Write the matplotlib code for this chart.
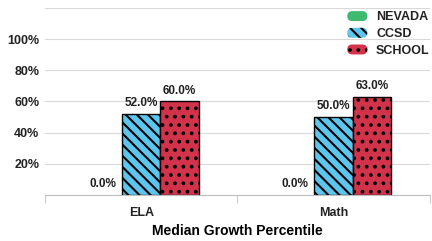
import matplotlib.pyplot as plt
from matplotlib.patches import FancyBboxPatch
from matplotlib.legend_handler import HandlerPatch
import numpy as np

plt.rcParams['font.family'] = ['Liberation Sans', 'DejaVu Sans']
plt.rcParams['hatch.linewidth'] = 1.5

# Data
categories = ['ELA', 'Math']
series_names = ['NEVADA', 'CCSD', 'SCHOOL']
nevada = [0.0, 0.0]
ccsd = [52.0, 50.0]
school = [60.0, 63.0]
y_ticks = [0, 20, 40, 60, 80, 100, 120]
y_labels = ['', '20%', '40%', '60%', '80%', '100%', '']

colors = ['#3dba6f', '#5cc6ef', '#d2334b']
hatches = [None, '\\\\\\', '..']


class PillHandler(HandlerPatch):
    # rounded legend keys like the original
    def create_artists(self, legend, orig_handle, xdescent, ydescent, width, height, fontsize, trans):
        r = height * 0.5
        p = FancyBboxPatch((-xdescent + r, -ydescent), width - 2 * r, height,
                           boxstyle='round,pad=0,rounding_size=%f' % r)
        p.set_facecolor(orig_handle.get_facecolor())
        p.set_edgecolor('black')
        p.set_linewidth(0)
        if orig_handle.get_hatch():
            p.set_hatch(orig_handle.get_hatch())
        p.set_transform(trans)
        return [p]


fig = plt.figure(figsize=(4.32, 2.41), dpi=100)
ax = fig.add_axes([0.104, 0.191, 0.891, 0.776])

x = np.arange(len(categories))
w = 0.2
handles = []
for i, (vals, c, h, name) in enumerate(zip([nevada, ccsd, school], colors, hatches, series_names)):
    bars = ax.bar(x + (i - 1) * w, vals, width=w, color=c, hatch=h,
                  edgecolor='black', linewidth=0 if i == 0 else 1.0, label=name)
    for b, v in zip(bars, vals):
        ax.text(b.get_x() + b.get_width() / 2, v + 3, '%.1f%%' % v,
                ha='center', va='bottom', fontsize=8.5, fontweight='bold', color='#222222')
    handles.append(bars[0])

ax.set_xlim(-0.5, 1.5)
ax.set_ylim(0, 120)
ax.set_yticks(y_ticks)
ax.set_yticklabels(y_labels)
ax.set_xticks(x)
ax.set_xticklabels(categories)
ax.set_xticks([-0.5, 0.5, 1.5], minor=True)
ax.tick_params(axis='x', which='major', length=0, pad=9, labelsize=9)
ax.tick_params(axis='x', which='minor', length=6, color='#bfbfbf')
ax.tick_params(axis='y', length=0, pad=4, labelsize=9)
for lab in ax.get_xticklabels() + ax.get_yticklabels():
    lab.set_fontweight('bold')
    lab.set_color('#222222')

ax.grid(axis='y', color='#d9d9d9', linewidth=0.8)
ax.set_axisbelow(True)
for s in ['top', 'right', 'left']:
    ax.spines[s].set_visible(False)
ax.spines['bottom'].set_color('#bfbfbf')

ax.set_xlabel('Median Growth Percentile', fontsize=10, fontweight='bold', labelpad=3)

leg = fig.legend(handles, series_names, loc='upper right', bbox_to_anchor=(1.012, 0.985),
                 frameon=False, fontsize=9, handlelength=2.4, handleheight=0.85,
                 handletextpad=0.3, labelspacing=0.35, borderpad=0.1,
                 handler_map={h: PillHandler() for h in handles})
for t in leg.get_texts():
    t.set_fontweight('bold')
    t.set_color('#222222')

fig.savefig('out.png', dpi=100)
